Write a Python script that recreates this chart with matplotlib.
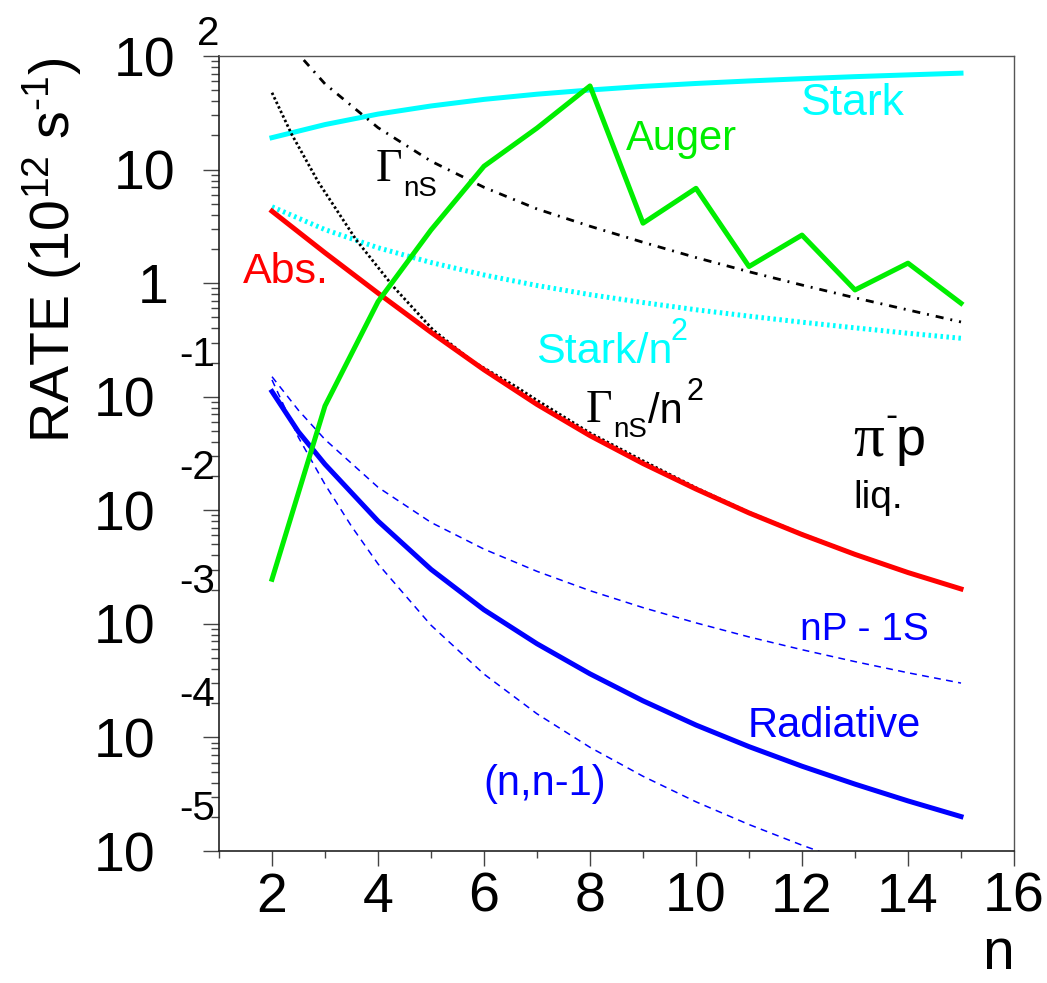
import numpy as np
import matplotlib.pyplot as plt
from matplotlib.ticker import LogLocator, NullFormatter, MultipleLocator
from matplotlib.transforms import offset_copy, blended_transform_factory

plt.rcParams['font.family'] = ['Liberation Sans', 'DejaVu Sans']
plt.rcParams['mathtext.fontset'] = 'custom'
plt.rcParams['mathtext.rm'] = 'Liberation Sans'
plt.rcParams['mathtext.it'] = 'Liberation Sans:italic'

# principal quantum number
n = [2, 3, 4, 5, 6, 7, 8, 9, 10, 11, 12, 13, 14, 15]

# rates in units of 10^12 s^-1
stark = [19.1, 24.9, 30.8, 36.3, 41.5, 46.1, 50.2, 54.0, 57.3, 60.3, 63.1, 65.8, 68.2, 70.6]
stark_n2 = [4.70, 2.96, 2.05, 1.52, 1.18, 0.953, 0.792, 0.675, 0.583, 0.512, 0.453, 0.404,
            0.362, 0.327]
gamma_ns = [190, 56.8, 23.4, 11.86, 6.98, 4.50, 3.17, 2.29, 1.68, 1.26, 0.962, 0.743,
            0.581, 0.455]
absorption = [4.30, 1.85, 0.817, 0.369, 0.1726, 0.0855, 0.0454, 0.0258, 0.01538, 0.00948,
              0.00612, 0.00409, 0.00283, 0.00203]
auger = [0.00247, 0.083, 0.687, 2.94, 10.7, 23.2, 54.5, 3.37, 6.84, 1.40, 2.65, 0.871, 1.50, 0.665]

# curves read at extra points where they bend strongly
n_fine = [2, 2.5, 3, 4, 5, 6, 7, 8, 9, 10, 11, 12, 13, 14, 15]
radiative = [0.111, 0.0490, 0.0254, 0.00804, 0.00302, 0.00133, 6.68e-4, 3.63e-4, 2.10e-4,
             1.285e-4, 8.3e-5, 5.58e-5, 3.88e-5, 2.76e-5, 2.01e-5]
np_1s = [0.150, 0.0759, 0.042, 0.01596, 0.00782, 0.00455, 0.0029, 0.00196, 0.00139, 0.00102,
         7.67e-4, 5.92e-4, 4.65e-4, 3.71e-4, 3.01e-4]

n_gns2 = [2, 2.37, 2.87, 3.59, 4.29, 5.04, 5.79, 6.6, 7, 8, 9, 10, 11, 12, 13, 14, 15]
gamma_ns_n2 = [47.5, 20.5, 7.82, 2.40, 0.931, 0.387, 0.204, 0.123, 0.093, 0.048, 0.0273,
               0.0158, 0.0096, 0.0062, 0.00412, 0.00285, 0.00204]

n_nn1 = [2, 2.5, 3, 3.5, 4, 5, 6, 7, 8, 9, 10, 11, 12, 13, 14, 15]
nn1 = [0.1406, 0.04375, 0.0169, 0.00723, 0.003373, 9.73e-4, 3.61e-4, 1.614e-4, 8.18e-5,
       4.55e-5, 2.71e-5, 1.71e-5, 1.125e-5, 7.64e-6, 5.32e-6, 3.78e-6]

W, H = 1047, 983
fig = plt.figure(figsize=(W / 100, H / 100), dpi=100)
ax = fig.add_axes([219 / W, 1 - 851 / H, 795 / W, 795 / H])

CYAN, GREEN, RED, BLUE = '#00FFFF', '#00EE00', '#FF0000', '#0000FF'

ax.plot(n, stark, color=CYAN, lw=3.6)
ax.plot(n, stark_n2, color=CYAN, lw=3.6, ls=(0, (0.5, 0.7)))
ax.plot(n, gamma_ns, color='black', lw=2.0, ls=(0, (2.9, 2.5, 0.7, 2.5)))
ax.plot(n_gns2, gamma_ns_n2, color='black', lw=2.0, ls=(0, (0.9, 0.9)))
ax.plot(n_fine, np_1s, color=BLUE, lw=1.1, ls=(0, (4.5, 3.5)))
ax.plot(n_nn1, nn1, color=BLUE, lw=1.1, ls=(0, (4.5, 3.5)))
ax.plot(n, absorption, color=RED, lw=3.6)
ax.plot(n_fine, radiative, color=BLUE, lw=3.6)
ax.plot(n, auger, color=GREEN, lw=3.6)

ax.set_yscale('log')
ax.set_xlim(1, 16)
ax.set_ylim(1e-5, 1e2)

# frame and ticks in the ROOT look
for side in ['top', 'right']:
    ax.spines[side].set_color('#555555')
    ax.spines[side].set_linewidth(1.0)
for side in ['left', 'bottom']:
    ax.spines[side].set_color('#222222')
    ax.spines[side].set_linewidth(1.2)

ax.xaxis.set_major_locator(MultipleLocator(2))
ax.xaxis.set_minor_locator(MultipleLocator(1))
ax.yaxis.set_major_locator(LogLocator(base=10, numticks=20))
ax.yaxis.set_minor_locator(LogLocator(base=10, subs=np.arange(2, 10), numticks=20))
ax.yaxis.set_major_formatter(NullFormatter())
ax.yaxis.set_minor_formatter(NullFormatter())
ax.tick_params(axis='both', which='both', direction='out', color='#444444', width=1.0,
               top=False, right=False)
ax.tick_params(axis='y', which='major', length=11.5)
ax.tick_params(axis='y', which='minor', length=5.8)
ax.tick_params(axis='x', which='major', length=10.8, labelsize=40, pad=4)
ax.tick_params(axis='x', which='minor', length=5.0)

# y tick labels written as 10 with a raised exponent
base_tr = blended_transform_factory(ax.transAxes, ax.transData)


def ylabel_part(k, s, dx, dy, size):
    tr = offset_copy(base_tr, fig=fig, x=dx, y=dy, units='dots')
    ax.text(0, 10.0 ** k, s, transform=tr, ha='right', va='baseline',
            fontsize=size, clip_on=False)


for k in range(-5, 3):
    if k == 0:
        ylabel_part(k, '1', -50, -20, 40)
    elif k == 1:
        ylabel_part(k, '10', -44, -20, 40)
    elif k == 2:
        ylabel_part(k, '10', -44, -20, 40)
        ylabel_part(k, '2', 0, 11, 29)
    else:
        ylabel_part(k, '10', -64, -20, 40)
        ylabel_part(k, '%d' % k, -4, 31, 29)

fig.text(70 / W, 1 - 58 / H, r'RATE (10$^{\mathregular{12}}$ s$^{\text{-1}}$)',
         rotation=90, rotation_mode='anchor', ha='right', va='baseline', fontsize=40)
fig.text(1014 / W, 1 - 981 / H, 'n', ha='right', va='bottom', fontsize=41)


def ptext(x, y, s, size, color='black', family=None):
    kw = {}
    if family is not None:
        kw['family'] = family
    fig.text(x / W, 1 - y / H, s, fontsize=size, color=color, ha='left',
             va='baseline', **kw)


SERIF = ['Liberation Serif', 'DejaVu Serif']

ptext(801, 115, 'Stark', 32, CYAN)
ptext(626, 150, 'Auger', 30, GREEN)
ptext(376, 181, '\u0393', 33, 'black', SERIF)
ptext(403, 196, 'nS', 20)
ptext(243, 283, 'Abs.', 31, RED)
ptext(536, 363, 'Stark/n', 31, CYAN)
ptext(671, 340, '2', 22, CYAN)
ptext(586, 422, '\u0393', 33, 'black', SERIF)
ptext(613, 437, 'nS', 20)
ptext(648, 423, '/n', 30)
ptext(686, 400, '2', 22)
ptext(853, 455, '\u03c0', 44, 'black', SERIF)
ptext(885, 426, '-', 26)
ptext(896, 455, 'p', 39)
ptext(853, 508, 'liq.', 28)
ptext(800, 640, 'nP - 1S', 28, BLUE)
ptext(748, 737, 'Radiative', 30, BLUE)
ptext(483, 795, '(n,n-1)', 30, BLUE)

fig.savefig('out.png', dpi=100)
